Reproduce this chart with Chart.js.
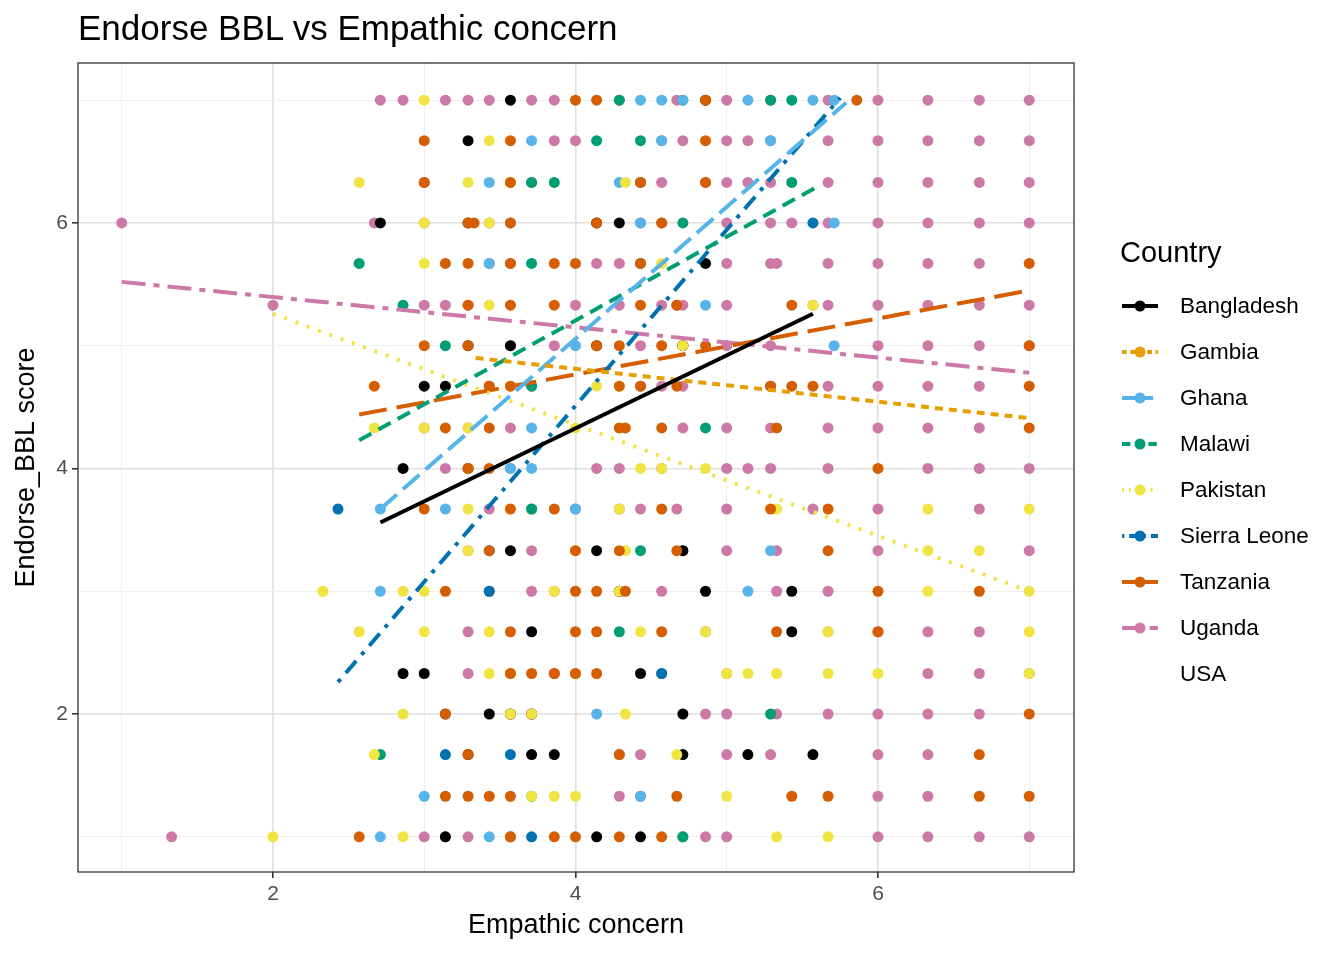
<!DOCTYPE html>
<html>
<head>
<meta charset="utf-8">
<script src="https://cdn.jsdelivr.net/npm/chart.js@4.4.1/dist/chart.umd.min.js"></script>
<style>
  body { margin: 0; background: #fff; font-family: "Liberation Sans", Arial, sans-serif; }
  #wrap { position: relative; width: 1344px; height: 960px; }
  #title { position: absolute; left: 78px; top: 8px; font-size: 35px; color: #000; }
  #legend { position: absolute; left: 1120px; top: 236px; }
  #legend .head { font-size: 29px; margin-bottom: 14px; }
  #legend .item { height: 46px; display: flex; align-items: center; font-size: 22.5px; }
  #legend svg { margin-right: 20px; }
</style>
</head>
<body>
<div id="wrap">
  <canvas id="c" width="1344" height="960"></canvas>
  <div id="title">Endorse BBL vs Empathic concern</div>
  <div id="legend"></div>
</div>
<script>
// points: each row is [y, [x values]]
const uganda = [
  [7, [2.71, 2.86, 3.14, 3.29, 3.43, 3.71, 3.86, 4.29, 4.67, 5.0, 5.29, 5.67, 6, 6.33, 6.67, 7]],
  [6.67, [3.86, 4.0, 4.57, 4.71, 5.0, 5.14, 5.29, 5.67, 6, 6.33, 6.67, 7]],
  [6.33, [3.0, 3.71, 4.57, 4.86, 5.0, 5.14, 5.29, 5.67, 6, 6.33, 6.67, 7]],
  [6, [1.0, 2.67, 3.0, 3.43, 4.43, 4.57, 5.0, 5.29, 5.43, 5.67, 6, 6.33, 6.67, 7]],
  [5.67, [3.43, 3.57, 4.14, 4.29, 5.0, 5.29, 5.33, 5.67, 6, 6.33, 6.67]],
  [5.33, [2.0, 3.0, 3.14, 3.29, 4.0, 4.29, 4.57, 4.67, 4.71, 5.0, 5.57, 5.67, 6, 6.33, 6.67, 7]],
  [5, [3.57, 3.86, 4.43, 4.71, 5.0, 5.29, 6, 6.33, 6.67, 7]],
  [4.67, [3.43, 3.71, 4.43, 4.57, 4.71, 5.29, 5.67, 6, 6.33, 6.67]],
  [4.33, [3.0, 3.29, 3.57, 4.71, 5.0, 5.29, 5.67, 6, 6.33, 6.67]],
  [4, [3.14, 3.29, 3.57, 4.14, 4.29, 4.57, 5.0, 5.14, 5.29, 5.67, 6.33, 6.67, 7]],
  [3.67, [3.43, 3.71, 4.0, 4.29, 4.43, 4.67, 5.0, 5.57, 6, 6.67]],
  [3.33, [3.29, 3.71, 4.71, 5.0, 5.33, 6, 7]],
  [3, [3.43, 3.71, 3.86, 4.29, 4.57, 5.33, 5.67]],
  [2.67, [3.29, 4.86, 5.67, 6, 6.33, 6.67]],
  [2.33, [3.29, 3.86, 4.57, 5.0, 6.33, 6.67, 7]],
  [2, [3.57, 3.71, 4.86, 5.0, 5.33, 5.67, 6, 6.33, 6.67]],
  [1.67, [4.43, 5.0, 5.29, 6, 6.33]],
  [1.33, [4.29, 4.43, 6, 6.33]],
  [1, [1.33, 3.0, 3.14, 3.29, 3.57, 4.71, 4.86, 5.0, 6, 6.33, 6.67, 7]]
];
const tanzania = [
  [7, [4.0, 4.14, 4.86, 5.86]],
  [6.67, [3.0, 3.57, 4.86]],
  [6.33, [3.0, 3.57, 4.43, 4.86]],
  [6, [3.29, 3.33, 3.57, 4.14, 4.57]],
  [5.67, [3.14, 3.29, 3.57, 3.86, 4.0, 4.43, 7]],
  [5.33, [3.29, 3.57, 3.86, 4.43, 4.67, 5.43]],
  [5, [3.0, 3.29, 4.14, 4.29, 4.57, 4.86, 7]],
  [4.67, [2.67, 3.43, 3.57, 4.29, 4.43, 4.67, 5.29, 5.43, 5.57, 7]],
  [4.33, [3.14, 3.43, 4.29, 4.33, 4.57, 5.33, 7]],
  [4, [3.29, 3.43, 6]],
  [3.67, [3.0, 3.57, 3.86, 4.57, 5.29, 5.67]],
  [3.33, [3.43, 4.0, 4.29, 4.67, 5.67]],
  [3, [3.14, 4.0, 4.14, 4.33, 6, 6.67]],
  [2.67, [3.57, 4.0, 4.14, 4.57, 5.33, 6]],
  [2.33, [3.57, 3.71, 3.86, 4.0, 4.14]],
  [2, [3.14, 7]],
  [1.67, [3.29, 4.29, 6.67]],
  [1.33, [3.14, 3.29, 3.43, 3.57, 4.67, 5.43, 5.67, 6.67, 7]],
  [1, [2.57, 3.57, 3.86, 4.0, 4.29, 4.57]]
];
const pakistan = [
  [7, [3.0]],
  [6.67, [3.43]],
  [6.33, [2.57, 3.29, 3.57, 4.33]],
  [6, [3.0, 3.43]],
  [5.67, [3.0, 4.57]],
  [5.33, [3.43, 5.57]],
  [5, [4.71]],
  [4.67, [3.57, 4.14, 4.29]],
  [4.33, [2.67, 3.0, 3.29, 4.0, 4.29]],
  [4, [3.29, 4.43, 4.57, 4.86]],
  [3.67, [3.29, 4.29, 5.33, 6.33, 7]],
  [3.33, [3.29, 4.0, 4.33, 6.33, 6.67]],
  [3, [2.33, 2.86, 3.0, 3.86, 4.29, 6.33, 7]],
  [2.67, [2.57, 3.0, 3.43, 4.43, 4.86, 5.67, 7]],
  [2.33, [3.43, 3.57, 4.0, 5.0, 5.14, 5.33, 5.67, 6, 7]],
  [2, [2.86, 3.57, 3.71, 4.33]],
  [1.67, [2.67, 4.67]],
  [1.33, [3.71, 3.86, 4.0, 5.0]],
  [1, [2.0, 2.86, 5.33, 5.67]]
];
const bangladesh = [
  [7, [3.57, 4.86]],
  [6.67, [3.29]],
  [6, [2.71, 3.29, 4.14, 4.29]],
  [5.67, [4.86]],
  [5, [3.29, 3.57, 4.14, 4.71]],
  [4.67, [3.0, 3.14]],
  [4, [2.86, 3.29]],
  [3.33, [3.57, 4.14, 4.71]],
  [3, [4.29, 4.86, 5.43]],
  [2.67, [3.71, 5.43]],
  [2.33, [2.86, 3.0, 4.43]],
  [2, [3.43, 3.57, 3.71, 4.71]],
  [1.67, [3.29, 3.71, 3.86, 4.71, 5.14, 5.57]],
  [1, [3.14, 4.14, 4.43]]
];
const ghana = [
  [7, [4.43, 4.57, 4.71, 5.14, 5.57, 5.71]],
  [6.67, [3.71, 4.57, 5.29]],
  [6.33, [3.43, 4.29]],
  [6, [3.57, 4.43, 5.71]],
  [5.67, [3.43]],
  [5.33, [4.86]],
  [5, [4.0, 5.71]],
  [4.67, [5.29]],
  [4.33, [3.71]],
  [4, [3.57, 3.71]],
  [3.67, [2.71, 3.14, 4.0]],
  [3.33, [5.29]],
  [3, [2.71, 5.14]],
  [2, [4.14]],
  [1.67, [4.29]],
  [1.33, [3.0, 4.43]],
  [1, [2.71, 3.43, 3.57]]
];
const malawi = [
  [7, [4.29, 4.71, 5.29, 5.43]],
  [6.67, [4.14, 4.43]],
  [6.33, [3.71, 3.86, 4.43, 5.43]],
  [6, [4.71]],
  [5.67, [2.57, 3.71, 4.43]],
  [5.33, [2.86]],
  [5, [3.14]],
  [4.67, [3.71]],
  [4.33, [4.86]],
  [3.67, [3.71]],
  [3.33, [4.43]],
  [2.67, [4.29]],
  [2, [5.29]],
  [1.67, [2.71]],
  [1.33, [3.71]],
  [1, [4.71]]
];
const sierraLeone = [
  [6, [5.57]],
  [3.67, [2.43]],
  [3.33, [3.43]],
  [3, [3.43]],
  [2.33, [4.57]],
  [2, [3.14]],
  [1.67, [3.14, 3.57]],
  [1, [3.71]]
];

// fitted lines: [x1, y1, x2, y2]
const fitBangladesh = [2.71, 3.56, 5.57, 5.26];
const fitGambia = [3.34, 4.90, 7.0, 4.41];
const fitGhana = [2.71, 3.67, 5.79, 6.98];
const fitMalawi = [2.57, 4.23, 5.62, 6.31];
const fitPakistan = [2.0, 5.26, 7.0, 3.0];
const fitSierraLeone = [2.43, 2.26, 5.75, 7.02];
const fitTanzania = [2.57, 4.44, 7.0, 5.45];
const fitUganda = [1.0, 5.52, 7.0, 4.78];

const countries = ['Bangladesh', 'Gambia', 'Ghana', 'Malawi', 'Pakistan', 'Sierra Leone', 'Tanzania', 'Uganda', 'USA'];
const colors = {
  'Bangladesh': '#000000', 'Gambia': '#E69F00', 'Ghana': '#56B4E9', 'Malawi': '#009E73',
  'Pakistan': '#F0E442', 'Sierra Leone': '#0072B2', 'Tanzania': '#D55E00', 'Uganda': '#CC79A7'
};
const dashes = {
  'Bangladesh': [], 'Gambia': [8, 6], 'Ghana': [22, 8], 'Malawi': [14, 8],
  'Pakistan': [3, 9], 'Sierra Leone': [4, 8, 16, 8], 'Tanzania': [28, 10], 'Uganda': [24, 8, 6, 8]
};

function toPoints(rows) {
  const pts = [];
  rows.forEach(r => r[1].forEach(x => pts.push({ x: x, y: r[0] })));
  return pts;
}

const pointSets = [
  ['Tanzania', tanzania], ['Pakistan', pakistan], ['Ghana', ghana], ['Malawi', malawi],
  ['Sierra Leone', sierraLeone], ['Bangladesh', bangladesh], ['Uganda', uganda]
];
const fitSets = [
  ['Bangladesh', fitBangladesh], ['Gambia', fitGambia], ['Ghana', fitGhana], ['Malawi', fitMalawi],
  ['Pakistan', fitPakistan], ['Sierra Leone', fitSierraLeone], ['Tanzania', fitTanzania], ['Uganda', fitUganda]
];

const datasets = [];
pointSets.forEach(([name, rows]) => {
  datasets.push({
    type: 'scatter', label: name, data: toPoints(rows),
    backgroundColor: colors[name], borderColor: colors[name],
    pointRadius: 5.5, borderWidth: 0, order: 2
  });
});
fitSets.forEach(([name, f]) => {
  datasets.push({
    type: 'line', label: name + ' fit', data: [{ x: f[0], y: f[1] }, { x: f[2], y: f[3] }],
    borderColor: colors[name], borderWidth: 4, borderDash: dashes[name],
    pointRadius: 0, fill: false, order: 1
  });
});

// panel border
const panelBorder = {
  id: 'panelBorder',
  afterDraw(chart) {
    const a = chart.chartArea, ctx = chart.ctx;
    ctx.save();
    ctx.strokeStyle = '#333333';
    ctx.lineWidth = 1.3;
    ctx.strokeRect(a.left, a.top, a.right - a.left, a.bottom - a.top);
    ctx.restore();
  }
};

const gridOpts = {
  color: c => (c.tick && c.tick.value % 2 === 0) ? '#e0e0e0' : '#efefef',
  lineWidth: c => (c.tick && c.tick.value % 2 === 0) ? 1.6 : 1,
  tickColor: c => (c.tick && c.tick.value % 2 === 0) ? '#333333' : 'rgba(0,0,0,0)',
  tickLength: 6,
  drawTicks: true
};
const evenLabel = v => (v % 2 === 0 ? String(v) : '');
const fixTicks = s => { s.ticks = [1, 2, 3, 4, 5, 6, 7].map(v => ({ value: v })); };

new Chart(document.getElementById('c'), {
  type: 'scatter',
  data: { datasets: datasets },
  options: {
    responsive: false,
    animation: false,
    layout: { padding: { top: 63, right: 270, left: 6, bottom: 14 } },
    plugins: { legend: { display: false }, tooltip: { enabled: false } },
    scales: {
      x: {
        type: 'linear', min: 0.711, max: 7.296,
        afterBuildTicks: fixTicks,
        afterFit: s => { s.height = 74; },
        grid: gridOpts, border: { display: false },
        ticks: { callback: evenLabel, color: '#4d4d4d', font: { size: 21, family: 'Liberation Sans' }, padding: 4, maxRotation: 0, autoSkip: false },
        title: { display: true, text: 'Empathic concern', color: '#000', font: { size: 27, family: 'Liberation Sans' }, padding: { top: 0 } }
      },
      y: {
        type: 'linear', min: 0.713, max: 7.303,
        afterBuildTicks: fixTicks,
        afterFit: s => { s.width = 72; },
        grid: gridOpts, border: { display: false },
        ticks: { callback: evenLabel, color: '#4d4d4d', font: { size: 21, family: 'Liberation Sans' }, padding: 4, autoSkip: false },
        title: { display: true, text: 'Endorse_BBL score', color: '#000', font: { size: 27, family: 'Liberation Sans' }, padding: { bottom: 2 } }
      }
    }
  },
  plugins: [panelBorder]
});

// legend
const legend = document.getElementById('legend');
legend.innerHTML = '<div class="head">Country</div>';
countries.forEach(name => {
  const item = document.createElement('div');
  item.className = 'item';
  let icon = '<svg width="40" height="20"></svg>';
  if (colors[name]) {
    const d = dashes[name].map(v => v * 0.6).join(',');
    icon = `<svg width="40" height="20"><line x1="2" y1="10" x2="38" y2="10" stroke="${colors[name]}" stroke-width="4" stroke-dasharray="${d}"/><circle cx="20" cy="10" r="5.5" fill="${colors[name]}"/></svg>`;
  }
  item.innerHTML = icon + '<span>' + name + '</span>';
  legend.appendChild(item);
});
</script>
</body>
</html>
